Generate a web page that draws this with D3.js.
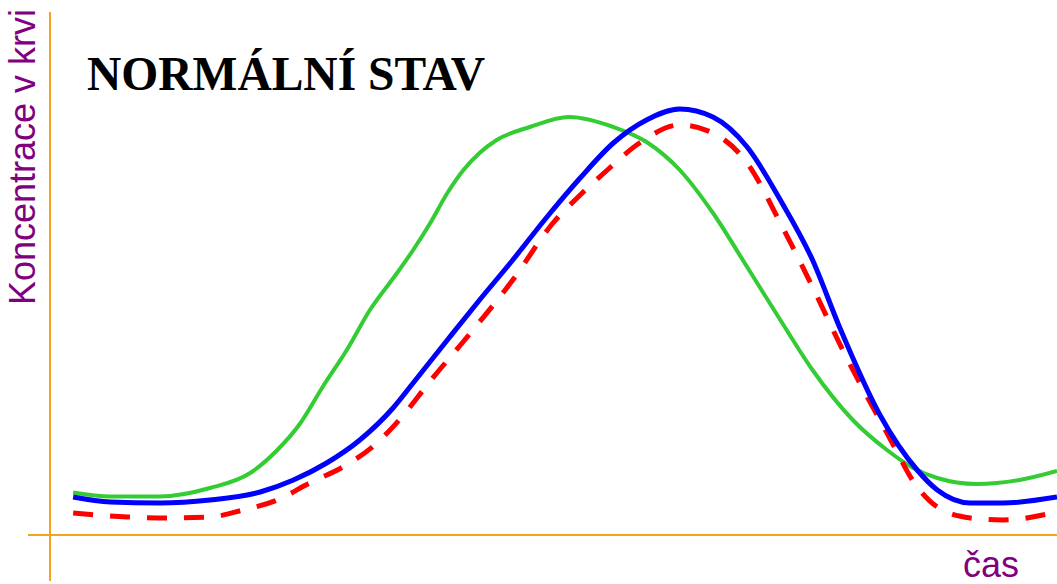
<!DOCTYPE html>
<html>
<head>
<meta charset="utf-8">
<script src="https://cdn.jsdelivr.net/npm/d3@7"></script>
<style>
  html, body { margin: 0; padding: 0; background: #fff; }
  svg { display: block; }
</style>
</head>
<body>
<svg id="chart" width="1057" height="584"></svg>
<script>
// ---- data (arbitrary units: time 0..100, concentration 0..100) ----
const title = "NORMÁLNÍ STAV";
const yLabel = "Koncentrace v krvi";
const xLabel = "čas";

const greenX = [2.2, 5.9, 10.8, 15.8, 19.8, 22.5, 24.8, 27.0, 29.4, 31.7, 34.4, 36.0, 37.7, 39.4, 41.0, 42.6, 44.3, 47.6, 51.5, 55.9, 59.2, 62.5, 65.8, 69.2, 72.5, 75.7, 79.7, 83.1, 85.7, 88.1, 92.0, 96.3, 100];
const greenY = [8.5, 7.7, 7.7, 9.4, 12.4, 17, 22.4, 29.6, 37, 45, 52.4, 57, 62.4, 68.4, 73, 76.4, 79, 81.6, 83.6, 81.6, 78.6, 73, 64.4, 53.6, 43, 33, 23, 17, 13.4, 11.4, 10.2, 11, 12.8];

const blueX = [2.2, 5.9, 10.8, 15.8, 20.8, 24.1, 27.4, 30.7, 34.0, 36.0, 39.4, 42.6, 45.9, 49.3, 52.6, 55.9, 59.2, 62.5, 65.8, 69.2, 72.5, 75.7, 78.4, 82.4, 86.1, 88.1, 91.4, 94.6, 100];
const blueY = [7.6, 6.6, 6.4, 7, 8.6, 11, 14.4, 19, 25.4, 30.4, 39, 47, 55, 63.6, 71.4, 78.4, 83, 85.2, 83.6, 77.6, 67, 55, 41.5, 24, 13, 9, 6.4, 6.4, 7.6];

const redX = [2.2, 7.6, 11.8, 15.8, 19.1, 22.5, 25.7, 29.0, 32.4, 34.7, 37.7, 41.7, 45.9, 49.9, 52.6, 55.3, 58.5, 62.5, 65.8, 69.2, 72.5, 75.7, 78.7, 83.1, 86.1, 88.1, 91.4, 94.6, 100];
const redY = [4.4, 3.6, 3.4, 3.6, 5, 7, 10.4, 13.6, 18.4, 23.2, 30.8, 40.4, 51, 62.4, 68, 73, 78.4, 82, 80.4, 74.4, 62.4, 49.6, 37, 20.4, 9.6, 5.6, 3.4, 3, 4.6];

// ---- layout ----
const svg = d3.select("#chart");
const x = d3.scaleLinear().domain([0, 100]).range([51, 1057]);
const y = d3.scaleLinear().domain([0, 100]).range([535, 35]);
const axisColor = "#f9a31c";
const labelColor = "#800080";

// axes (plain orange lines, no ticks)
svg.append("line")
  .attr("x1", 50).attr("x2", 50)
  .attr("y1", 12).attr("y2", 581)
  .attr("stroke", axisColor).attr("stroke-width", 2);
svg.append("line")
  .attr("x1", 28).attr("x2", 1057)
  .attr("y1", y(0)).attr("y2", y(0))
  .attr("stroke", axisColor).attr("stroke-width", 2);

const line = d3.line()
  .x(d => x(d[0]))
  .y(d => y(d[1]))
  .curve(d3.curveMonotoneX);

const zip = (a, b) => a.map((v, i) => [v, b[i]]);

svg.append("path")
  .datum(zip(greenX, greenY))
  .attr("d", line)
  .attr("fill", "none")
  .attr("stroke", "#33cc33")
  .attr("stroke-width", 4);

svg.append("path")
  .datum(zip(redX, redY))
  .attr("d", line)
  .attr("fill", "none")
  .attr("stroke", "#ff0000")
  .attr("stroke-width", 5)
  .attr("stroke-dasharray", "20,17");

svg.append("path")
  .datum(zip(blueX, blueY))
  .attr("d", line)
  .attr("fill", "none")
  .attr("stroke", "#0000ff")
  .attr("stroke-width", 5);

// texts
svg.append("text")
  .attr("x", 87).attr("y", 90)
  .attr("font-family", "'Liberation Serif', 'Times New Roman', serif")
  .attr("font-weight", "bold")
  .attr("font-size", 47.5)
  .attr("fill", "#000")
  .text(title);

svg.append("text")
  .attr("transform", "translate(35,157) rotate(-90)")
  .attr("text-anchor", "middle")
  .attr("font-family", "'Liberation Sans', Arial, sans-serif")
  .attr("font-size", 36)
  .attr("fill", labelColor)
  .text(yLabel);

svg.append("text")
  .attr("x", 963).attr("y", 577)
  .attr("font-family", "'Liberation Sans', Arial, sans-serif")
  .attr("font-size", 36)
  .attr("fill", labelColor)
  .text(xLabel);
</script>
</body>
</html>
